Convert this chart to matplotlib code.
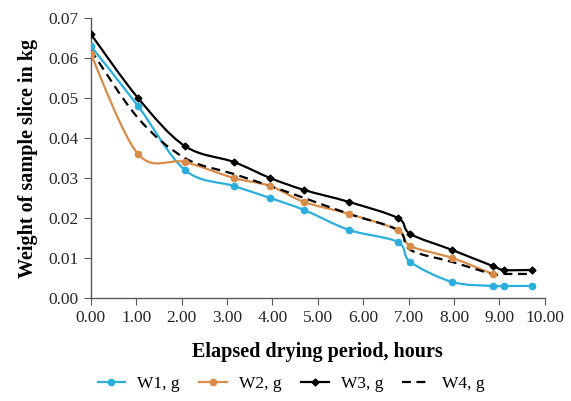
import matplotlib
matplotlib.use("Agg")
import matplotlib.pyplot as plt
from matplotlib.path import Path
from matplotlib.patches import PathPatch
from matplotlib.lines import Line2D
import numpy as np

plt.rcParams['font.family'] = ['Liberation Serif', 'DejaVu Serif']

hours = [0.0, 1.04, 2.07, 3.15, 3.95, 4.70, 5.69, 6.76, 7.04, 7.96, 8.85, 9.11, 9.72]
w1 = [0.063, 0.048, 0.032, 0.028, 0.025, 0.022, 0.017, 0.014, 0.009, 0.004, 0.003, 0.003, 0.003]
hours2 = [0.0, 1.04, 2.07, 3.15, 3.95, 4.70, 5.69, 6.76, 7.04, 7.96, 8.85]
w2 = [0.061, 0.036, 0.034, 0.030, 0.028, 0.024, 0.021, 0.017, 0.013, 0.010, 0.006]
w3 = [0.066, 0.050, 0.038, 0.034, 0.030, 0.027, 0.024, 0.020, 0.016, 0.012, 0.008, 0.007, 0.007]
w4 = [0.062, 0.045, 0.035, 0.031, 0.028, 0.025, 0.021, 0.017, 0.012, 0.009, 0.006, 0.006, 0.006]

xticks = [0, 1, 2, 3, 4, 5, 6, 7, 8, 9, 10]
yticks = [0.0, 0.01, 0.02, 0.03, 0.04, 0.05, 0.06, 0.07]

c1 = '#2aaedc'
c2 = '#d98b48'
c3 = '#000000'


def smooth_path(xs, ys):
    P = np.column_stack([xs, ys]).astype(float)
    n = len(P)
    verts = [P[0]]
    codes = [Path.MOVETO]
    for i in range(n - 1):
        p_prev = P[i - 1] if i > 0 else P[i]
        p_next2 = P[i + 2] if i + 2 < n else P[i + 1]
        c_a = P[i] + (P[i + 1] - p_prev) / 6.0
        c_b = P[i + 1] - (p_next2 - P[i]) / 6.0
        verts += [c_a, c_b, P[i + 1]]
        codes += [Path.CURVE4] * 3
    return Path(verts, codes)


fig = plt.figure(figsize=(5.71, 4.01), dpi=100)
ax = fig.add_axes([0.159, 0.257, 0.795, 0.698])

series = [
    (hours, w1, c1, '-', 'o', 4.5, 'W1, g'),
    (hours2, w2, c2, '-', 'o', 4.5, 'W2, g'),
    (hours, w3, c3, '-', 'D', 3.5, 'W3, g'),
    (hours, w4, c3, (0, (4, 2.5)), None, 0, 'W4, g'),
]
handles = []
for xs, ys, col, ls, mk, ms, lab in series:
    patch = PathPatch(smooth_path(xs, ys), facecolor='none', edgecolor=col,
                      linewidth=1.6, linestyle=ls, zorder=3)
    ax.add_patch(patch)
    if mk:
        ax.plot(xs, ys, linestyle='none', marker=mk, color=col, markersize=ms, zorder=4)
    handles.append(Line2D([], [], color=col, linestyle=ls, marker=mk, markersize=ms,
                          linewidth=1.6, label=lab))

ax.set_xlim(0, 10)
ax.set_ylim(0, 0.07)
ax.set_xticks(xticks)
ax.set_xticklabels([f'{v:.2f}' for v in xticks])
ax.set_yticks(yticks)
ax.set_yticklabels([f'{v:.2f}' for v in yticks])
for s in ['top', 'right']:
    ax.spines[s].set_visible(False)
for s in ['left', 'bottom']:
    ax.spines[s].set_color('#595959')
    ax.spines[s].set_linewidth(1.0)
ax.tick_params(axis='both', direction='out', length=5, colors='#595959',
               labelcolor='#262626', labelsize=12.5, pad=4)

ax.set_xlabel('Elapsed drying period, hours', fontsize=14.5, fontweight='bold', labelpad=11)
ax.set_ylabel('Weight of sample slice in kg', fontsize=14.5, fontweight='bold', labelpad=7)

fig.legend(handles=handles, loc='center', bbox_to_anchor=(0.51, 0.043), ncol=4,
           frameon=False, fontsize=12.5, handlelength=1.6, columnspacing=1.1,
           handletextpad=0.7)

fig.savefig('out.png', dpi=100)
